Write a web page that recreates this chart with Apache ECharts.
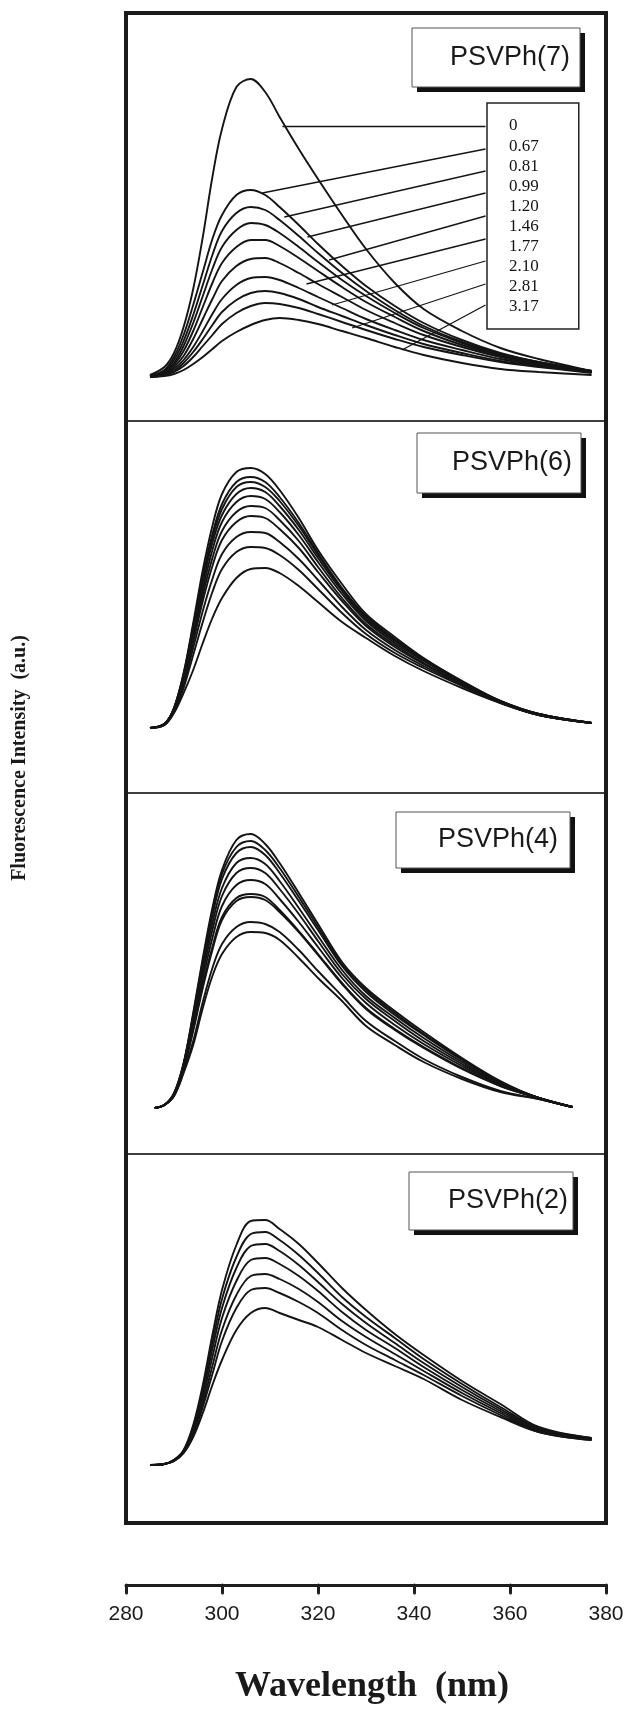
<!DOCTYPE html>
<html><head><meta charset="utf-8">
<script src="https://cdn.jsdelivr.net/npm/echarts@6/dist/echarts.min.js"></script>
<style>html,body{margin:0;padding:0;background:#fff}#c{width:629px;height:1714px}</style>
</head><body><div id="c"></div>
<script>
// ---------- data ----------
const xTicks = [280, 300, 320, 340, 360, 380];
const panelTitles = ['PSVPh(7)', 'PSVPh(6)', 'PSVPh(4)', 'PSVPh(2)'];
const quencherConc = ['0', '0.67', '0.81', '0.99', '1.20', '1.46', '1.77', '2.10', '2.81', '3.17'];

const wavelengthsA = [285, 288, 290, 292, 294, 296, 298, 300, 303, 306, 309, 312, 316, 320, 325, 330, 336, 342, 350, 358, 366, 377];
const wavelengthsC = [286, 288, 290, 292, 294, 296, 298, 300, 303, 306, 309, 312, 316, 320, 325, 330, 336, 342, 350, 358, 366, 373];

// PSVPh(7): one curve per quencher concentration (a.u.)
const psvph7 = [
  [2, 10, 24, 50, 88, 140, 200, 248, 290, 298, 285, 260, 228, 198, 162, 128, 94, 68, 46, 29, 18, 6],
  [1, 7, 20, 42, 72, 105, 138, 162, 182, 187, 182, 170, 152, 133, 111, 91, 71, 54, 37, 24, 15, 6],
  [1, 6, 17, 36, 62, 92, 122, 146, 164, 170, 167, 157, 141, 124, 104, 86, 67, 51, 35, 23, 15, 6],
  [1, 5, 14, 31, 54, 81, 108, 130, 147, 154, 152, 144, 130, 115, 97, 81, 64, 49, 34, 22, 14, 6],
  [1, 4, 12, 26, 46, 70, 94, 114, 130, 137, 137, 131, 119, 106, 90, 75, 60, 46, 32, 21, 13, 5],
  [1, 3, 10, 21, 38, 58, 78, 96, 111, 118, 119, 114, 104, 93, 80, 67, 54, 42, 30, 20, 13, 5],
  [0, 3, 8, 17, 30, 46, 63, 78, 92, 99, 100, 97, 89, 80, 69, 58, 47, 37, 27, 18, 12, 5],
  [0, 2, 6, 14, 25, 38, 52, 65, 77, 84, 86, 84, 78, 70, 61, 52, 42, 33, 24, 16, 11, 5],
  [0, 2, 5, 11, 20, 31, 42, 53, 64, 71, 74, 73, 69, 63, 55, 47, 38, 30, 22, 15, 10, 4],
  [0, 1, 3, 7, 13, 20, 28, 36, 45, 52, 57, 59, 57, 53, 46, 39, 30, 22, 14, 8, 5, 2]
];
const psvph6 = [
  [0, 4, 20, 55, 105, 158, 202, 234, 256, 260, 254, 238, 210, 178, 144, 114, 91, 70, 47, 27, 14, 5],
  [0, 4, 20, 54, 102, 152, 194, 224, 246, 251, 246, 231, 205, 175, 140, 112, 89, 69, 47, 27, 14, 5],
  [0, 4, 20, 53, 100, 149, 190, 219, 241, 246, 241, 227, 202, 173, 139, 111, 88, 69, 46, 27, 14, 5],
  [0, 4, 19, 52, 97, 145, 185, 213, 234, 240, 236, 222, 198, 170, 137, 109, 87, 68, 46, 27, 14, 5],
  [0, 4, 19, 50, 94, 139, 178, 206, 226, 232, 229, 216, 193, 166, 134, 107, 85, 67, 45, 26, 14, 5],
  [0, 4, 18, 48, 90, 133, 170, 197, 216, 222, 220, 208, 187, 161, 130, 104, 83, 65, 44, 26, 13, 5],
  [0, 4, 18, 46, 86, 127, 162, 188, 206, 212, 210, 199, 180, 156, 127, 102, 81, 64, 44, 26, 13, 5],
  [0, 3, 17, 43, 80, 117, 149, 174, 191, 196, 195, 186, 169, 148, 121, 98, 78, 62, 43, 26, 13, 5],
  [0, 3, 16, 40, 73, 106, 136, 159, 176, 181, 180, 173, 158, 139, 115, 94, 75, 60, 42, 25, 13, 5],
  [0, 3, 15, 35, 58, 85, 110, 130, 150, 159, 160, 155, 142, 126, 106, 90, 72, 57, 40, 25, 13, 5]
];
const psvph4 = [
  [0, 3, 15, 45, 95, 150, 200, 238, 268, 274, 264, 245, 215, 184, 146, 120, 97, 76, 50, 27, 10, 1],
  [0, 3, 14, 44, 93, 147, 196, 234, 261, 267, 258, 240, 211, 181, 144, 118, 95, 74, 49, 26, 10, 1],
  [0, 3, 14, 44, 92, 145, 192, 229, 255, 261, 253, 235, 207, 178, 142, 116, 93, 73, 48, 26, 10, 1],
  [0, 3, 14, 43, 89, 140, 185, 220, 245, 250, 244, 227, 200, 172, 138, 112, 90, 70, 46, 25, 10, 1],
  [0, 3, 13, 42, 86, 135, 178, 212, 235, 240, 235, 219, 194, 167, 134, 109, 87, 67, 44, 24, 10, 1],
  [0, 3, 13, 41, 83, 129, 170, 202, 223, 228, 224, 209, 186, 161, 130, 105, 83, 64, 42, 23, 10, 1],
  [0, 3, 13, 40, 79, 123, 161, 191, 210, 214, 211, 198, 177, 154, 125, 100, 79, 61, 40, 22, 10, 1],
  [0, 3, 13, 39, 77, 120, 158, 188, 207, 211, 208, 196, 176, 153, 124, 99, 78, 60, 39, 22, 10, 1],
  [0, 3, 12, 36, 67, 106, 140, 164, 181, 186, 184, 176, 158, 137, 112, 87, 67, 49, 31, 17, 9, 1],
  [0, 3, 12, 35, 63, 100, 132, 154, 171, 176, 175, 168, 150, 130, 107, 82, 63, 46, 29, 16, 9, 1]
];
const psvph2 = [
  [0, 1, 5, 15, 40, 80, 130, 175, 220, 244, 245, 236, 221, 202, 177, 155, 131, 110, 84, 61, 38, 27],
  [0, 1, 5, 14, 38, 76, 123, 166, 208, 231, 233, 225, 210, 192, 168, 148, 127, 106, 81, 58, 37, 27],
  [0, 1, 5, 14, 36, 72, 116, 157, 197, 219, 221, 214, 200, 183, 161, 142, 122, 102, 78, 56, 36, 26],
  [0, 1, 5, 13, 34, 67, 108, 147, 184, 205, 207, 201, 189, 174, 153, 135, 117, 98, 75, 54, 35, 26],
  [0, 1, 4, 13, 32, 62, 99, 135, 170, 189, 191, 186, 176, 163, 144, 128, 111, 94, 72, 52, 34, 26],
  [0, 1, 4, 12, 30, 58, 91, 124, 157, 175, 177, 172, 163, 152, 135, 120, 105, 90, 69, 50, 33, 25],
  [0, 1, 4, 12, 28, 52, 80, 105, 135, 152, 157, 152, 145, 138, 125, 112, 99, 86, 65, 48, 33, 25]
];

// leader lines of the PSVPh(7) key: [start wavelength, start value, end wavelength, end value]
const leaderLines = [
  [354.9, 251, 312.6, 251],
  [354.9, 228, 308.4, 184],
  [354.9, 206, 313.0, 160],
  [354.9, 184, 317.8, 140],
  [354.9, 161, 322.3, 117],
  [354.9, 138, 317.6, 93],
  [354.9, 116, 322.9, 72],
  [354.9, 93, 327.1, 49],
  [354.9, 72, 337.5, 27]
];

// ---------- layout ----------
const panelData = [psvph7, psvph6, psvph4, psvph2];
const panelX = [wavelengthsA, wavelengthsA, wavelengthsC, wavelengthsA];
const tops = [13, 421, 793, 1154];
const bottoms = [421, 793, 1154, 1523];
const yRanges = [[-44, 364], [-65, 307], [-46, 315], [-58, 311]];
const boxL = 126, boxW = 480;
const titleBoxes = [
  {x: 412, y: 28, w: 168, h: 59, tr: 570},
  {x: 417, y: 433, w: 164, h: 60, tr: 572},
  {x: 396, y: 812, w: 174, h: 56, tr: 558},
  {x: 409, y: 1172, w: 164, h: 58, tr: 568}
];

const chart = echarts.init(document.getElementById('c'), null, {renderer: 'canvas'});

const grids = tops.map((t, i) => ({
  left: boxL, width: boxW, top: t, height: bottoms[i] - t,
  show: true, borderColor: '#333', borderWidth: 1.5, backgroundColor: 'transparent'
}));

const xAxes = tops.map((t, i) => {
  const base = {gridIndex: i, type: 'value', min: xTicks[0], max: xTicks[xTicks.length - 1], interval: xTicks[1] - xTicks[0]};
  if (i < 3) return Object.assign(base, {show: false});
  return Object.assign(base, {
    position: 'bottom',
    offset: 62,
    axisLine: {show: true, onZero: false, lineStyle: {color: '#1e1e1e', width: 3, cap: 'round'}},
    axisTick: {show: true, length: 8, lineStyle: {color: '#1e1e1e', width: 3, cap: 'round'}},
    axisLabel: {fontFamily: 'Liberation Sans', fontSize: 21, color: '#1a1a1a', margin: 19},
    splitLine: {show: false}
  });
});

const yAxes = tops.map((t, i) => ({gridIndex: i, type: 'value', min: yRanges[i][0], max: yRanges[i][1], show: false}));

const series = [];
panelData.forEach((curves, p) => {
  curves.forEach((vals, k) => {
    const s = {
      type: 'line',
      name: p === 0 ? quencherConc[k] : panelTitles[p] + ' #' + (k + 1),
      xAxisIndex: p, yAxisIndex: p,
      data: panelX[p].map((w, j) => [w, vals[j]]),
      showSymbol: false, symbol: 'none',
      smooth: 0.35,
      lineStyle: {color: '#141414', width: 1.9},
      silent: true, z: 3
    };
    if (p === 0 && k === 0) {
      s.markLine = {
        symbol: 'none', silent: true, animation: false,
        label: {show: false},
        lineStyle: {color: '#141414', width: 1.3, type: 'solid'},
        emphasis: {disabled: true},
        data: leaderLines.map(l => [{coord: [l[0], l[1]]}, {coord: [l[2], l[3]]}])
      };
    }
    series.push(s);
  });
});

const graphic = [];
titleBoxes.forEach((b, i) => {
  graphic.push({type: 'rect', z: 50, shape: {x: b.x + 5, y: b.y + 5, width: b.w, height: b.h}, style: {fill: '#111'}});
  graphic.push({type: 'rect', z: 51, shape: {x: b.x, y: b.y, width: b.w, height: b.h}, style: {fill: '#fff', stroke: '#555', lineWidth: 1}});
  graphic.push({type: 'text', z: 52, x: b.tr, y: b.y + b.h / 2,
    style: {text: panelTitles[i], fontFamily: 'Liberation Sans', fontSize: 27, fill: '#1a1a1a',
      textAlign: 'right', align: 'right', textVerticalAlign: 'middle', verticalAlign: 'middle'}});
});
graphic.push({type: 'rect', z: 60, shape: {x: boxL, y: tops[0], width: boxW, height: bottoms[3] - tops[0]},
  style: {fill: 'transparent', stroke: '#1a1a1a', lineWidth: 4}});
graphic.push({type: 'text', z: 60, x: 20, y: 758, rotation: Math.PI / 2,
  style: {text: 'Fluorescence Intensity  (a.u.)', fontFamily: 'Liberation Serif', fontWeight: 'bold', fontSize: 20, fill: '#1a1a1a',
    textAlign: 'center', align: 'center', textVerticalAlign: 'middle', verticalAlign: 'middle'}});
graphic.push({type: 'text', z: 60, x: 372, y: 1687,
  style: {text: 'Wavelength  (nm)', fontFamily: 'Liberation Serif', fontWeight: 'bold', fontSize: 36, fill: '#1a1a1a',
    textAlign: 'center', align: 'center', textVerticalAlign: 'middle', verticalAlign: 'middle'}});

chart.setOption({
  animation: false,
  backgroundColor: '#fff',
  grid: grids,
  xAxis: xAxes,
  yAxis: yAxes,
  legend: {
    data: quencherConc, orient: 'vertical', left: 487, top: 103,
    padding: [13, 40, 12, 17], itemWidth: 0, itemHeight: 10, itemGap: 0.1,
    icon: 'rect', itemStyle: {opacity: 0}, lineStyle: {opacity: 0},
    selectedMode: false, borderColor: '#222', borderWidth: 1.5, backgroundColor: '#fff', z: 20,
    textStyle: {fontFamily: 'Liberation Serif', fontSize: 17, color: '#141414', lineHeight: 20}
  },
  graphic: graphic,
  series: series
});
</script>
</body></html>
